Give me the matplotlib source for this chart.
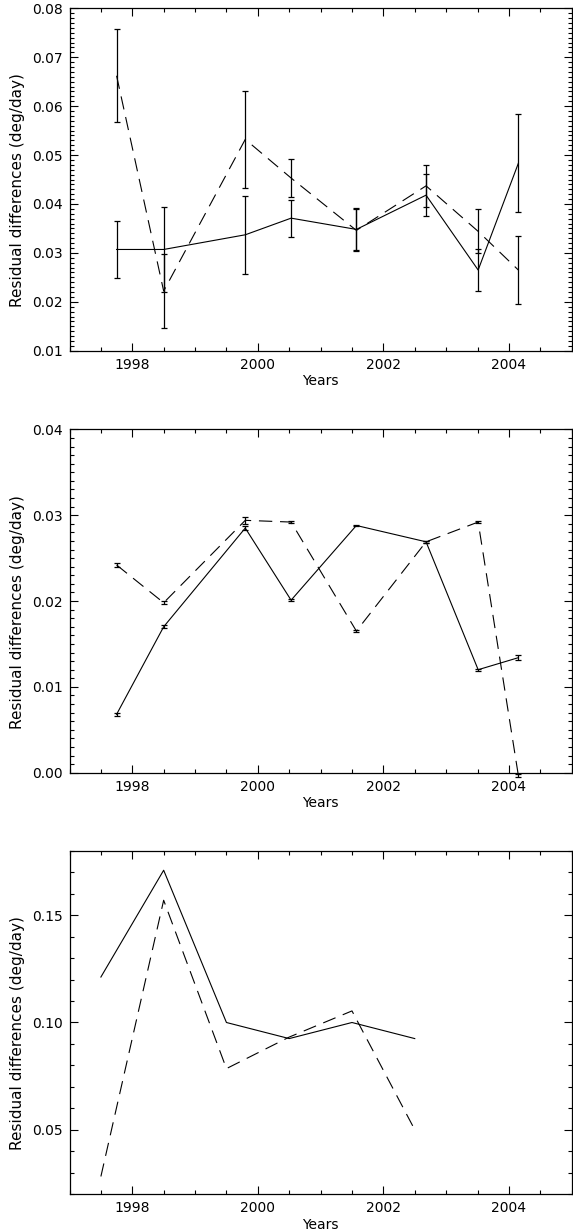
import numpy as np
import matplotlib
matplotlib.use('Agg')
import matplotlib.pyplot as plt
from matplotlib.ticker import MultipleLocator, FormatStrFormatter

#Datos
years = [1997.75, 1998.5, 1999.8, 2000.53, 2001.57, 2002.68, 2003.51, 2004.15]

solid1 = [0.0307, 0.0307, 0.0337, 0.0371, 0.0348, 0.0418, 0.0265, 0.0483]
solid1_err = [0.0058, 0.0087, 0.0080, 0.0038, 0.0043, 0.0043, 0.0042, 0.0100]
dash1 = [0.0662, 0.0222, 0.0532, 0.0453, 0.0346, 0.0437, 0.0344, 0.0265]
dash1_err = [0.0095, 0.0076, 0.0099, 0.0038, 0.0043, 0.0043, 0.0045, 0.0070]

solid2 = [0.0068, 0.0170, 0.0285, 0.0201, 0.0288, 0.0269, 0.0120, 0.0134]
solid2_err = [0.0002, 0.0002, 0.0002, 0.0001, 0.0001, 0.0001, 0.0001, 0.0003]
dash2 = [0.0242, 0.0198, 0.0294, 0.0292, 0.0165, 0.0269, 0.0292, -0.0003]
dash2_err = [0.0002, 0.0002, 0.0004, 0.0001, 0.0001, 0.0001, 0.0001, 0.0002]

years3 = [1997.5, 1998.5, 1999.5, 2000.5, 2001.5, 2002.5]
solid3 = [0.1212, 0.1710, 0.1000, 0.0925, 0.1000, 0.0925]
dash3 = [0.0282, 0.1570, 0.0785, 0.0932, 0.1054, 0.0500]

xticks = [1998, 2000, 2002, 2004]

plt.rcParams['font.family'] = 'DejaVu Sans'
plt.rcParams['font.size'] = 10

fig = plt.figure(figsize=(5.73, 12.32), dpi=100)
dash_style = (0, (12, 7))

#Estilo comun de los ejes
def style_axes(ax, ylim, major, minor, fmt):
  ax.set_xlim(1997, 2005)
  ax.set_ylim(*ylim)
  ax.set_xticks(xticks)
  ax.xaxis.set_minor_locator(MultipleLocator(0.5))
  ax.yaxis.set_major_locator(MultipleLocator(major))
  ax.yaxis.set_minor_locator(MultipleLocator(minor))
  ax.yaxis.set_major_formatter(FormatStrFormatter(fmt))
  ax.tick_params(which='both', direction='in', top=True, right=True, width=0.8)
  ax.tick_params(which='major', length=6, pad=5)
  ax.tick_params(which='minor', length=3)
  for s in ax.spines.values():
    s.set_linewidth(0.9)
  ax.set_xlabel('Years', labelpad=2)
  ax.set_ylabel('Residual differences (deg/day)', fontsize=11)
  ax.yaxis.set_label_coords(-0.089, 0.468)

#Panel superior
ax1 = fig.add_axes([0.1213, 0.7153, 0.8764, 0.2780])
ax1.errorbar(years, solid1, yerr=solid1_err, fmt='none', ecolor='k', elinewidth=0.9, capsize=2, capthick=0.9)
ax1.errorbar(years, dash1, yerr=dash1_err, fmt='none', ecolor='k', elinewidth=0.9, capsize=2, capthick=0.9)
ax1.plot(years, solid1, color='k', lw=0.8)
ax1.plot(years, dash1, color='k', lw=0.8, linestyle=dash_style)
style_axes(ax1, (0.01, 0.08), 0.01, 0.001, '%.2f')

#Panel medio
ax2 = fig.add_axes([0.1213, 0.3728, 0.8764, 0.2787])
ax2.errorbar(years, solid2, yerr=solid2_err, fmt='none', ecolor='k', elinewidth=0.9, capsize=2, capthick=0.9)
ax2.errorbar(years, dash2, yerr=dash2_err, fmt='none', ecolor='k', elinewidth=0.9, capsize=2, capthick=0.9, clip_on=False)
ax2.plot(years, solid2, color='k', lw=0.8)
ax2.plot(years, dash2, color='k', lw=0.8, linestyle=dash_style, clip_on=False)
style_axes(ax2, (0.0, 0.04), 0.01, 0.001, '%.2f')

#Panel inferior
ax3 = fig.add_axes([0.1213, 0.0308, 0.8764, 0.2785])
ax3.plot(years3, solid3, color='k', lw=0.8)
ax3.plot(years3, dash3, color='k', lw=0.8, linestyle=dash_style)
style_axes(ax3, (0.02, 0.18), 0.05, 0.01, '%.2f')

fig.savefig('out.png', dpi=100)
